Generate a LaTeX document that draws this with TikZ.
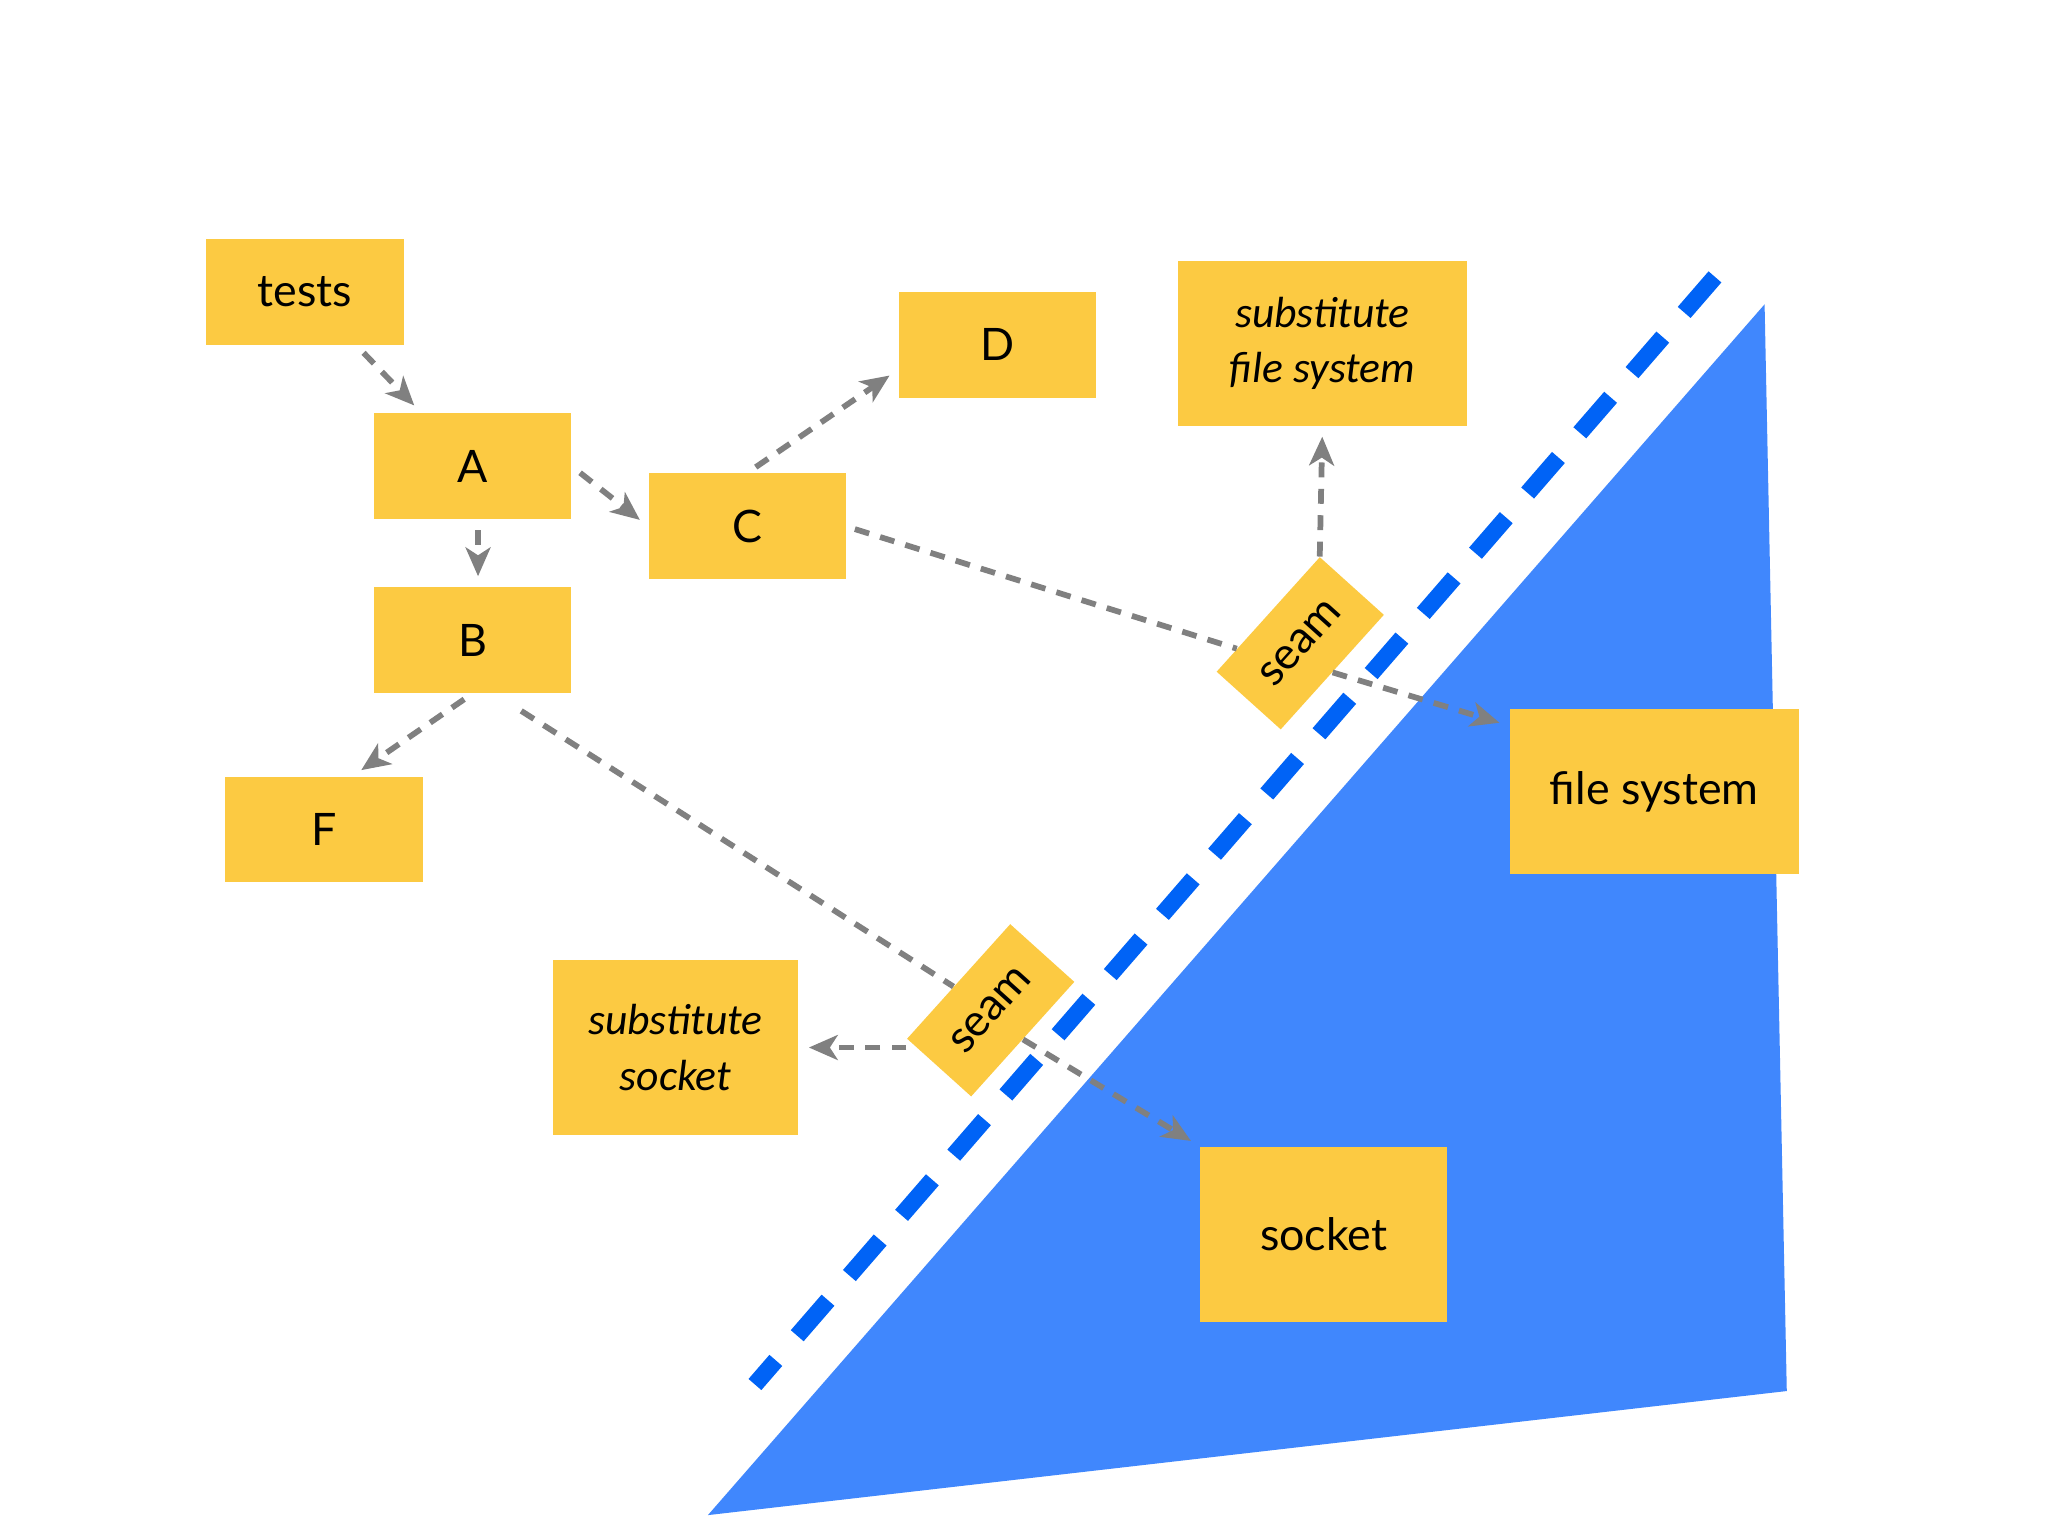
\documentclass[tikz,border=0pt]{standalone}
\usepackage{fontspec}
\setmainfont{Lato}
\newfontfamily\notefont{Carlito}
\usetikzlibrary{arrows.meta,calc}
\definecolor{noteyellow}{RGB}{252,202,66}
\definecolor{wallblue}{RGB}{64,135,253}
\definecolor{seamblue}{RGB}{0,99,246}
\definecolor{linkgray}{RGB}{128,128,128}
\tikzset{
  card/.style={fill=noteyellow,minimum width=3.02cm,minimum height=1.62cm,inner sep=0,
    font=\fontsize{19.5}{23}\selectfont},
  bigcard/.style={card,minimum width=4.42cm,minimum height=2.52cm},
  subcard/.style={bigcard,align=center,font=\notefont\itshape\fontsize{19}{24}\selectfont},
  seamcard/.style={card,minimum width=2.36cm,minimum height=1.32cm,rotate=48},
  plainlink/.style={draw=linkgray,line width=2.5pt,dash pattern=on 6.5pt off 5pt},
  link/.style={plainlink,-{Stealth[length=0.44cm,width=0.38cm,inset=0.12cm]},
    shorten >=0.16cm,shorten <=0.16cm}
}
\begin{document}
\begin{tikzpicture}[x=0.02cm,y=-0.02cm]
  \fill[white] (0,0) rectangle (1568,1176);
  \useasboundingbox (0,0) rectangle (1568,1176);
  % outside world and the seam line
  \fill[wallblue] (542,1160) -- (1351,233) -- (1368,1065) -- cycle;
  \draw[seamblue,line width=0.26cm,dash pattern=on 0.72cm off 0.5cm] (1313,212) -- (578,1060);
  % notes
  \node[card] (tests) at (233.5,223.5) {tests};
  \node[card] (A) at (362,357) {A};
  \node[card] (B) at (362,490) {B};
  \node[card] (C) at (572,403) {C};
  \node[card] (D) at (763.5,264) {D};
  \node[card] (F) at (248,635) {F};
  \node[subcard] (subfs) at (1012.5,263) {substitute\\file system};
  \node[bigcard] (fs) at (1266.5,606) {file system};
  \node[subcard,minimum width=3.76cm,minimum height=2.68cm] (subsock) at (517,802) {substitute\\socket};
  \node[bigcard,minimum width=3.78cm,minimum height=2.68cm] (sock) at (1013.5,945) {socket};
  \node[seamcard] (seam1) at (995.5,492.5) {seam};
  \node[seamcard] (seam2) at (758.5,773.5) {seam};
  % links
  \draw[link] (tests) -- (A);
  \draw[link] ([xshift=0.08cm]A.south) -- ([xshift=0.08cm]B.north);
  \draw[link] (A.east) -- (C.west);
  \draw[link] (C.north) -- ([yshift=-0.38cm]D.west);
  \draw[link] (B.south) -- ([xshift=0.44cm]F.north);
  \draw[plainlink,shorten <=0.14cm] (C.east) -- ($(seam1.north west)!0.2!(seam1.north east)$);
  \draw[link,shorten <=0pt] (seam1.north east) -- (subfs.south);
  \draw[link,shorten <=0pt] (seam1.south) -- ([yshift=-0.26cm]fs.north west);
  \draw[plainlink,shorten <=0.5cm] ([xshift=0.32cm]B.south) -- (seam2);
  \draw[link,shorten <=0pt] (seam2.north west |- subsock.east) -- (subsock.east);
  \draw[link,shorten <=0pt] (seam2.south) -- (sock.north west);
\end{tikzpicture}
\end{document}
